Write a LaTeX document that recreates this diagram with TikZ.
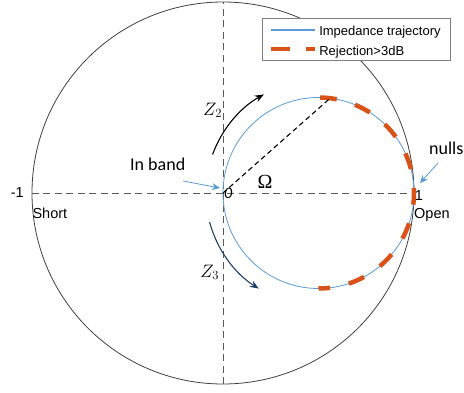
\RequirePackage{fix-cm}
\documentclass[tikz,border=0pt]{standalone}
\usepackage{fontspec}
\setmainfont{Liberation Sans}
\newfontfamily\calibri{Carlito}
\newfontfamily\greekserif{Liberation Serif}
\usetikzlibrary{arrows.meta}
\definecolor{trajblue}{HTML}{5B9BD5}
\definecolor{rejorange}{HTML}{D95319}
\definecolor{zthreeblue}{HTML}{203F66}

\begin{document}
\begin{tikzpicture}[x=191pt,y=191pt,
		axis/.style={black!65, line width=0.9pt, dash pattern=on 7pt off 4.5pt},
		traj/.style={trajblue, line width=0.8pt},
		reject/.style={rejorange, line width=4.5pt},
		pointer/.style={trajblue, line width=0.8pt, -{Stealth[length=8pt,width=7pt]}},
		lbl/.style={inner sep=0pt, font=\fontsize{14.5}{16}\selectfont},
		callout/.style={inner sep=0pt, font=\calibri\fontsize{18}{20}\selectfont}]
		
		\useasboundingbox (-1.1675,-1.0419) rectangle (1.2618,1.0105);
		
		% Carta
		\coordinate (o) at (0,0);
		\coordinate (c) at (0.5,0);
		\coordinate (short) at (-1,0);
		\coordinate (open) at (1,0);
		\coordinate (top) at (0,1);
		\coordinate (bottom) at (0,-1);
		\draw[black!75, line width=0.8pt] (o) circle[radius=1];
		\draw[axis] (short) -- (open);
		\draw[axis] (bottom) -- (top);
		
		% Trayectoria
		\draw[traj] (c) circle[radius=0.5];
		\foreach \a/\b in {89/79,67.5/57.5,46/36,24.5/14.5,3/-7,-18.5/-28.5,-40/-50,-61.5/-71.5,-83/-90}
		\draw[reject] (c) ++(\a:0.5) arc[start angle=\a,end angle=\b,radius=0.5];
		
		% Angulo Omega
		\path (c) ++(83:0.5) coordinate (p);
		\draw[black, line width=1.1pt, dash pattern=on 5pt off 3.5pt] (o) -- (p);
		\node[anchor=base, inner sep=0pt, font=\greekserif\fontsize{20}{24}\selectfont] (omega) at (0.22,0.026) {Ω};
		
		% Flechas Z2, Z3
		\draw[black, line width=1.1pt, -{Stealth[length=9pt,width=7pt]}] (c) ++(160:0.59) arc[start angle=160,end angle=119,radius=0.59];
		\draw[zthreeblue, line width=1.1pt, -{Stealth[length=9pt,width=7pt]}] (c) ++(195:0.59) arc[start angle=195,end angle=238,radius=0.59];
		\node[anchor=base west, inner sep=0pt, font=\fontsize{18}{21}\selectfont] (z2) at (-0.1047,0.408) {$Z_2$};
		\node[anchor=base west, inner sep=0pt, font=\fontsize{18}{21}\selectfont] (z3) at (-0.12,-0.44) {$Z_3$};
		
		% Etiquetas
		\node[lbl, anchor=base east] (minusone) at (-1.042,-0.026) {-1};
		\node[lbl, anchor=base west] (shortlbl) at (-0.998,-0.131) {Short};
		\node[lbl, anchor=base west] (openlbl) at (1.0,-0.131) {Open};
		\node[lbl, anchor=base west] (one) at (1.003,-0.037) {1};
		\node[anchor=base west, inner sep=0pt, font=\calibri\itshape\fontsize{16}{18}\selectfont] (zero) at (0.005,-0.031) {0};
		
		% In band, nulls
		\node[callout, anchor=base west] (inband) at (-0.487,0.1204) {In band};
		\node[callout, anchor=base west] (nulls) at (1.0785,0.199) {nulls};
		\coordinate (ibtail) at (-0.209,0.063);
		\coordinate (ibtip) at (-0.016,0.026);
		\coordinate (nltail) at (1.126,0.157);
		\coordinate (nltip) at (1.031,0.052);
		\draw[pointer] (ibtail) -- (ibtip);
		\draw[pointer] (nltail) -- (nltip);
		
		% Leyenda
		\node[draw=black!50, fill=white, line width=0.8pt, minimum width=188pt, minimum height=42pt, inner sep=0pt] (legend) at (0.699,0.8055) {};
		\draw[traj, line width=1.2pt] (0.251,0.853) -- (0.482,0.853);
		\draw[reject, dash pattern=on 19pt off 16pt] (0.251,0.755) -- (0.482,0.755);
		\node[anchor=base west, inner sep=0pt, font=\fontsize{13}{15}\selectfont] (legtraj) at (0.503,0.822) {Impedance trajectory};
		\node[anchor=base west, inner sep=0pt, font=\fontsize{13}{15}\selectfont] (legrej) at (0.503,0.7225) {Rejection>3dB};
		
	\end{tikzpicture}
\end{document}
